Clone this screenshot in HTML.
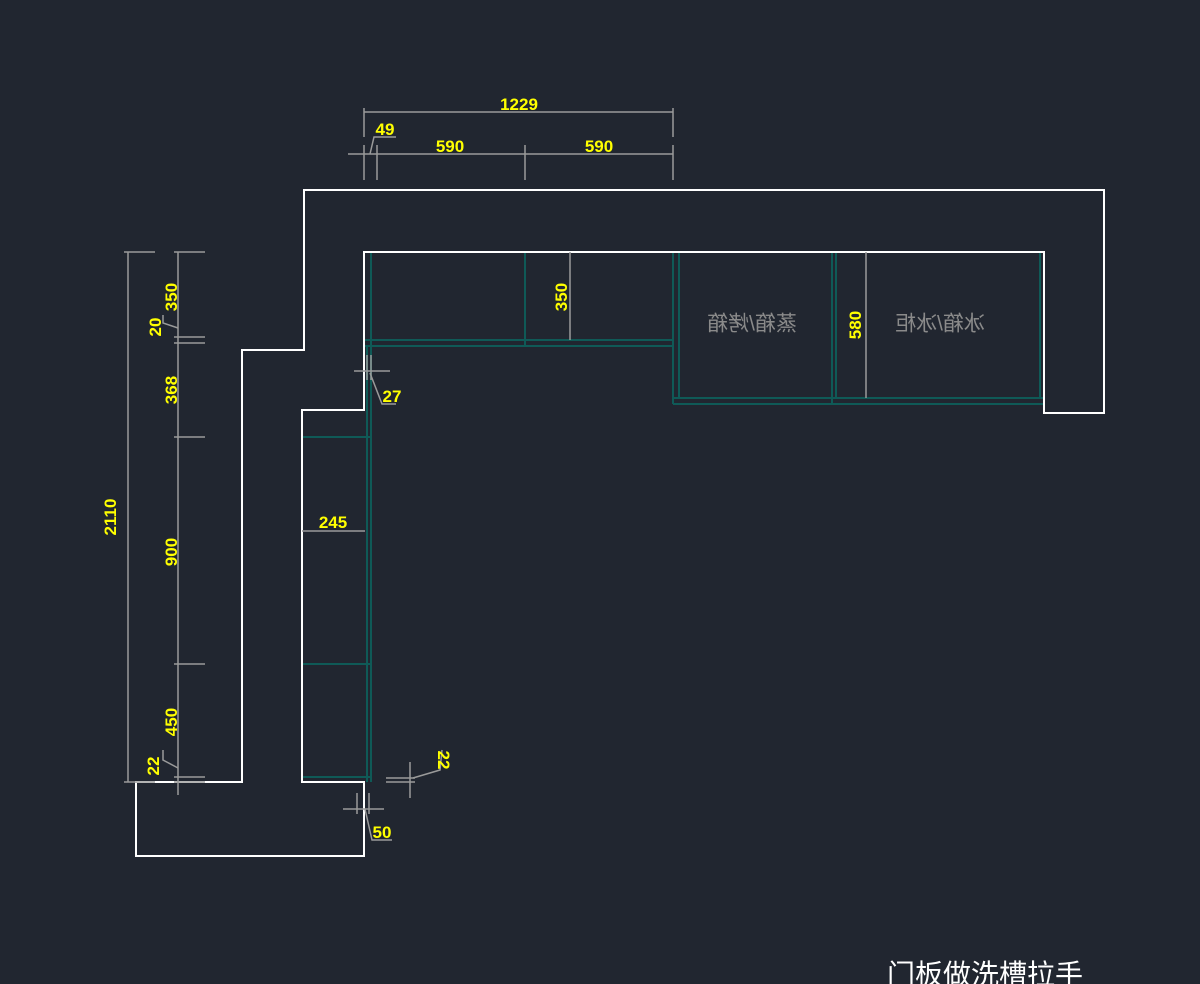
<!DOCTYPE html>
<html><head><meta charset="utf-8"><style>
html,body{margin:0;padding:0;background:#212630;}
svg{display:block}
.y{fill:#ffff00;font-family:"Liberation Sans Narrow","Liberation Sans",sans-serif;font-weight:bold;font-size:17px}
</style></head><body>
<svg width="1200" height="984" viewBox="0 0 1200 984" xmlns="http://www.w3.org/2000/svg">
<rect width="1200" height="984" fill="#212630"/>
<g stroke="#0f5a57" stroke-width="2" fill="none">
<line x1="367" y1="346" x2="367" y2="782"/>
<line x1="371" y1="252" x2="371" y2="782"/>
<line x1="364" y1="340" x2="673" y2="340"/>
<line x1="364" y1="346" x2="673" y2="346"/>
<line x1="525" y1="252" x2="525" y2="346"/>
<line x1="673" y1="252" x2="673" y2="404"/>
<line x1="679" y1="252" x2="679" y2="398"/>
<line x1="832" y1="252" x2="832" y2="404"/>
<line x1="836" y1="252" x2="836" y2="398"/>
<line x1="1040" y1="252" x2="1040" y2="398"/>
<line x1="673" y1="398" x2="1044" y2="398"/>
<line x1="673" y1="404" x2="1044" y2="404"/>
<line x1="302" y1="437" x2="371" y2="437"/>
<line x1="302" y1="664" x2="371" y2="664"/>
<line x1="302" y1="777" x2="371" y2="777"/>
</g>
<path d="M304 190 H1104 V413 H1044 V252 H364 V410 H302 V782 H364 V856 H136 V782 H242 V350 H304 Z" fill="none" stroke="#ffffff" stroke-width="2"/>
<g stroke="#9a9a9a" stroke-width="1.5" fill="none">
<line x1="128" y1="252" x2="128" y2="782"/>
<line x1="124" y1="252" x2="155" y2="252"/>
<line x1="124" y1="782" x2="155" y2="782"/>
<line x1="178" y1="252" x2="178" y2="795"/>
<line x1="174" y1="252" x2="205" y2="252"/>
<line x1="174" y1="337" x2="205" y2="337"/>
<line x1="174" y1="343" x2="205" y2="343"/>
<line x1="174" y1="437" x2="205" y2="437"/>
<line x1="174" y1="664" x2="205" y2="664"/>
<line x1="174" y1="777" x2="205" y2="777"/>
<line x1="174" y1="782" x2="205" y2="782"/>
<polyline points="163,315 163,323 178,328"/>
<polyline points="163,750 163,760 178,768"/>
<line x1="364" y1="112" x2="673" y2="112"/>
<line x1="364" y1="108" x2="364" y2="137"/>
<line x1="673" y1="108" x2="673" y2="137"/>
<line x1="348" y1="154" x2="673" y2="154"/>
<line x1="364" y1="145" x2="364" y2="180"/>
<line x1="377" y1="145" x2="377" y2="180"/>
<line x1="525" y1="145" x2="525" y2="180"/>
<line x1="673" y1="145" x2="673" y2="180"/>
<polyline points="370,154 374,137 396,137"/>
<line x1="570" y1="252" x2="570" y2="340"/>
<line x1="866" y1="252" x2="866" y2="398"/>
<line x1="302" y1="531" x2="365" y2="531"/>
<line x1="354" y1="371" x2="390" y2="371"/>
<line x1="367" y1="355" x2="367" y2="380"/>
<line x1="371" y1="355" x2="371" y2="380"/>
<polyline points="370,373 382,404 396,404"/>
<line x1="386" y1="778" x2="415" y2="778"/>
<line x1="386" y1="782" x2="415" y2="782"/>
<line x1="410" y1="762" x2="410" y2="798"/>
<polyline points="413,778 440,770 442,750"/>
<line x1="343" y1="809" x2="384" y2="809"/>
<line x1="357" y1="793" x2="357" y2="814"/>
<line x1="369" y1="793" x2="369" y2="814"/>
<polyline points="365,809 372,840 392,840"/>
</g>
<text class="y" x="519" y="110" text-anchor="middle">1229</text>
<text class="y" x="385" y="135" text-anchor="middle">49</text>
<text class="y" x="450" y="152" text-anchor="middle">590</text>
<text class="y" x="599" y="152" text-anchor="middle">590</text>
<text class="y" transform="translate(116,517) rotate(-90)" text-anchor="middle">2110</text>
<text class="y" transform="translate(177,297) rotate(-90)" text-anchor="middle">350</text>
<text class="y" transform="translate(161,327) rotate(-90)" text-anchor="middle">20</text>
<text class="y" transform="translate(177,390) rotate(-90)" text-anchor="middle">368</text>
<text class="y" transform="translate(177,552) rotate(-90)" text-anchor="middle">900</text>
<text class="y" transform="translate(177,722) rotate(-90)" text-anchor="middle">450</text>
<text class="y" transform="translate(159,766) rotate(-90)" text-anchor="middle">22</text>
<text class="y" transform="translate(567,297) rotate(-90)" text-anchor="middle">350</text>
<text class="y" transform="translate(861,325) rotate(-90)" text-anchor="middle">580</text>
<text class="y" x="333" y="528" text-anchor="middle">245</text>
<text class="y" x="392" y="402" text-anchor="middle">27</text>
<text class="y" transform="translate(438,760) rotate(90)" text-anchor="middle">22</text>
<text class="y" x="382" y="838" text-anchor="middle">50</text>
<text transform="translate(752,325) scale(-1,1)" text-anchor="middle" dominant-baseline="middle" fill="#8a8a8a" font-size="21" font-family="'Liberation Sans','Noto Sans CJK SC',sans-serif">蒸箱/烤箱</text>
<text transform="translate(940,325) scale(-1,1)" text-anchor="middle" dominant-baseline="middle" fill="#8a8a8a" font-size="21" font-family="'Liberation Sans','Noto Sans CJK SC',sans-serif">冰箱/冰柜</text>
<text x="985" y="984" text-anchor="middle" fill="#ffffff" font-size="28" font-family="'Liberation Sans','Noto Sans CJK SC',sans-serif">门板做洗槽拉手</text>
</svg>
</body></html>
